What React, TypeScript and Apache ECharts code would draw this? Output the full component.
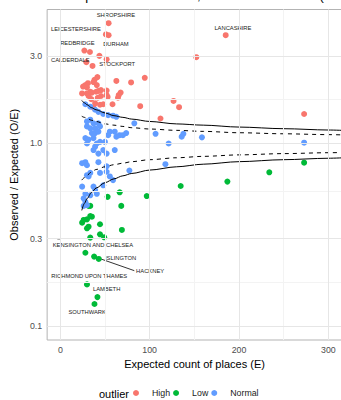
import React, { useEffect, useRef } from "react";
import * as echarts from "echarts";

// ---------- data (E = expected count, ratio = O/E) ----------
const highPoints: [number, number][] = [
  [54.0, 4.56], [51.0, 3.96], [54.0, 3.92], [185.1, 3.92], [26.9, 3.23], [33.1, 3.17],
  [43.7, 3.02], [152.2, 2.97], [51.8, 2.89], [29.1, 2.79], [36.0, 2.66], [41.5, 2.31],
  [62.7, 2.2], [38.2, 2.23], [37.1, 2.17], [79.2, 2.16], [94.5, 2.29], [30.9, 2.14],
  [25.4, 2.05], [29.8, 2.03], [40.8, 2.09], [45.5, 1.96], [33.5, 1.92], [40.0, 1.92],
  [51.8, 1.95], [67.5, 1.9], [65.3, 1.84], [64.5, 1.78], [41.9, 1.78], [34.6, 1.75],
  [45.5, 1.82], [52.9, 1.8], [58.4, 1.64], [48.0, 1.64], [37.1, 1.57], [89.4, 1.6],
  [126.7, 1.71], [132.9, 1.58], [112.1, 1.37], [272.9, 1.45], [28.0, 2.09], [24.3, 1.88],
  [29.8, 1.88], [31.6, 1.82], [35.3, 1.9], [42.6, 1.94], [38.9, 1.66], [44.4, 1.63], [51.8, 1.84],
];

const lowPoints: [number, number][] = [
  [134.7, 0.585], [66.4, 0.54], [52.9, 0.51], [96.7, 0.515], [68.2, 0.455], [68.9, 0.336],
  [31.6, 0.455], [33.5, 0.455], [33.5, 0.4], [35.3, 0.397], [24.4, 0.368], [26.1, 0.381],
  [29.8, 0.384], [29.8, 0.343], [31.6, 0.35], [44.4, 0.361], [44.4, 0.318], [49.1, 0.306],
  [33.5, 0.305], [28.0, 0.252], [37.8, 0.24], [43.0, 0.233], [29.8, 0.169], [41.5, 0.144],
  [38.2, 0.132], [187.0, 0.618], [233.9, 0.695], [272.9, 0.785],
];

const normalPoints: [number, number][] = [
  [28.0, 1.64], [33.5, 1.59], [38.9, 1.53], [42.6, 1.49], [48.0, 1.45], [53.5, 1.43], [59.0, 1.42], [62.7, 1.4],
  [29.8, 1.32], [33.5, 1.35], [37.1, 1.29], [42.6, 1.29], [29.8, 1.24], [33.5, 1.21], [38.9, 1.21], [44.4, 1.24],
  [38.9, 1.14], [42.6, 1.16], [55.4, 1.16], [60.9, 1.16], [28.0, 1.07], [31.6, 1.05], [37.1, 1.07], [53.5, 1.11],
  [35.3, 1.14], [29.8, 1.0], [40.8, 1.0], [38.9, 0.96], [44.4, 1.02], [49.9, 1.02], [62.7, 1.09], [66.4, 1.11],
  [37.1, 0.92], [42.6, 0.88], [48.0, 0.92], [51.8, 0.88], [60.9, 0.92],
  [24.4, 0.78], [28.0, 0.79], [29.8, 0.76], [42.6, 0.79], [51.8, 0.75],
  [29.8, 0.67], [31.6, 0.66], [33.5, 0.69], [44.4, 0.69], [51.8, 0.7], [55.4, 0.66], [59.0, 0.63],
  [24.4, 0.58], [37.1, 0.58], [48.0, 0.59], [33.5, 0.52], [38.9, 0.556], [40.8, 0.53],
  [26.1, 0.5], [28.0, 0.48], [29.8, 0.46], [26.1, 0.455], [28.0, 0.53],
  [77.3, 0.71], [117.6, 0.77], [121.2, 1.0], [106.6, 1.13], [82.8, 1.29], [70.0, 1.11], [73.7, 1.14],
  [135.8, 1.09], [137.7, 1.13], [158.5, 1.08], [272.9, 1.01],
];

// labelled points: group + index into the group's array
const pointLabels = [
  { group: "High", index: 0, text: "SHROPSHIRE" },
  { group: "High", index: 1, text: "LEICESTERSHIRE" },
  { group: "High", index: 2, text: "DURHAM" },
  { group: "High", index: 3, text: "LANCASHIRE" },
  { group: "High", index: 4, text: "REDBRIDGE" },
  { group: "High", index: 9, text: "CALDERDALE" },
  { group: "High", index: 10, text: "STOCKPORT" },
  { group: "Low", index: 19, text: "KENSINGTON AND CHELSEA" },
  { group: "Low", index: 20, text: "HACKNEY" },
  { group: "Low", index: 21, text: "ISLINGTON" },
  { group: "Low", index: 22, text: "RICHMOND UPON THAMES" },
  { group: "Low", index: 23, text: "LAMBETH" },
  { group: "Low", index: 24, text: "SOUTHWARK" },
];

// funnel limits
const limitE = [24, 27, 30, 35, 40, 50, 60, 70, 80, 100, 130, 160, 200, 250, 300, 320];
const upper998 = [1.72, 1.67, 1.63, 1.57, 1.53, 1.47, 1.42, 1.39, 1.36, 1.32, 1.28, 1.26, 1.23, 1.205, 1.185, 1.178];
const upper95 = [1.41, 1.39, 1.37, 1.34, 1.32, 1.28, 1.26, 1.24, 1.22, 1.2, 1.18, 1.165, 1.145, 1.13, 1.118, 1.113];
const lower95 = [0.63, 0.65, 0.67, 0.7, 0.72, 0.745, 0.765, 0.78, 0.795, 0.815, 0.835, 0.85, 0.866, 0.88, 0.89, 0.893];
const lower998 = [0.43, 0.47, 0.5, 0.54, 0.57, 0.61, 0.64, 0.665, 0.685, 0.715, 0.745, 0.77, 0.795, 0.815, 0.83, 0.836];

// HACKNEY repel segment (point -> label), data coordinates
const hackneySegment: [number, number][] = [[37.8, 0.24], [82.8, 0.201]];

// axes
const xTickValues = [0, 100, 200, 300];
const xMinorValues = [50, 150, 250];
const yTickValues = [0.1, 0.3, 1, 3];
const yMinorValues = [0.1732, 0.5477, 1.732];
const legendNames = ["High", "Low", "Normal"];

const titleText = "Funnel plot: dashed = 95%, solid = 99.8% limits (standardised ratio)";
const xTitle = "Expected count of places (E)";
const yTitle = "Observed / Expected (O/E)";

// ---------- styles ----------
const COLORS: Record<string, string> = { High: "#F8766D", Low: "#00BA38", Normal: "#619CFF" };
const labelOffsets: Record<string, [number, number]> = {
  SHROPSHIRE: [7.3, -7.8],
  LEICESTERSHIRE: [-30, -5.6],
  DURHAM: [7.3, 8.4],
  LANCASHIRE: [7.2, -7.6],
  REDBRIDGE: [-7, -8],
  CALDERDALE: [-16, -2],
  STOCKPORT: [24.7, -2.3],
  "KENSINGTON AND CHELSEA": [7.5, -7.7],
  ISLINGTON: [21.8, -0.7],
  HACKNEY: [56, 14.6],
  "RICHMOND UPON THAMES": [2.3, -8.6],
  LAMBETH: [9.2, -7.7],
  SOUTHWARK: [-7.3, 8.3],
};
const FONT = "'Liberation Sans', Arial, Helvetica, sans-serif";
const lg = (v: number) => Math.log10(v);

export default function App() {
  const ref = useRef<HTMLDivElement>(null);
  useEffect(() => {
    if (!ref.current) return;
    const chart = echarts.init(ref.current, undefined, { renderer: "svg" });
    const groups: Record<string, [number, number][]> = {
      High: highPoints,
      Low: lowPoints,
      Normal: normalPoints,
    };
    const scatterSeries = legendNames.map((g) => ({
      type: "scatter",
      name: g,
      symbolSize: 6,
      z: 3,
      itemStyle: { color: COLORS[g], opacity: 1 },
      data: groups[g].map((p, i) => {
        const lab = pointLabels.find((l) => l.group === g && l.index === i);
        const item: any = { value: [p[0], lg(p[1])] };
        if (lab) {
          item.label = {
            show: true,
            formatter: lab.text,
            position: "inside",
            offset: labelOffsets[lab.text],
            fontSize: 5.8,
            fontFamily: FONT,
            color: "#222",
          };
        }
        return item;
      }),
    }));
    const limitSeries = [
      { d: upper998, dash: false },
      { d: upper95, dash: true },
      { d: lower95, dash: true },
      { d: lower998, dash: false },
    ].map((s) => ({
      type: "line",
      showSymbol: false,
      symbol: "none",
      smooth: 0.3,
      smoothMonotone: "x",
      z: 4,
      silent: true,
      lineStyle: { color: "#000", width: 1, type: s.dash ? [4, 4] : "solid" },
      data: limitE.map((e, i) => [e, lg(s.d[i])]),
    }));
    const majorStyle = { color: "#E6E6E6", width: 1, type: "solid" };
    const minorStyle = { color: "#F3F3F3", width: 1, type: "solid" };
    chart.setOption({
      animation: false,
      textStyle: { fontFamily: FONT },
      grid: {
        left: 41,
        top: 9.5,
        width: 301,
        height: 330.5,
        show: true,
        borderColor: "#B3B3B3",
        borderWidth: 1,
        containLabel: false,
      },
      xAxis: {
        type: "value",
        min: -14.8,
        max: 315.3,
        name: xTitle,
        nameLocation: "middle",
        nameGap: 17,
        nameTextStyle: { fontSize: 11, color: "#000", fontFamily: FONT },
        axisLine: { show: false },
        splitLine: { show: false },
        axisTick: { show: true, customValues: xTickValues, length: 3, lineStyle: { color: "#B3B3B3" } },
        axisLabel: { customValues: xTickValues, fontSize: 8.8, color: "#4D4D4D", margin: 5 },
      },
      yAxis: {
        type: "value",
        min: -1.0767,
        max: 0.734,
        name: yTitle,
        nameLocation: "middle",
        nameGap: 25,
        nameTextStyle: { fontSize: 11, color: "#000", fontFamily: FONT },
        axisLine: { show: false },
        splitLine: { show: false },
        axisTick: { show: true, customValues: yTickValues.map(lg), length: 3, lineStyle: { color: "#B3B3B3" } },
        axisLabel: {
          customValues: yTickValues.map(lg),
          fontSize: 8.8,
          color: "#4D4D4D",
          margin: 5,
          formatter: (v: number) => Math.pow(10, v).toFixed(1),
        },
      },
      legend: {
        data: legendNames,
        left: 133,
        top: 388.5,
        padding: 0,
        itemWidth: 22,
        itemHeight: 6,
        itemGap: 3,
        icon: "circle",
        selectedMode: false,
        textStyle: { fontSize: 8.8, color: "#1A1A1A", fontFamily: FONT },
      },
      graphic: [
        {
          type: "text",
          x: 42,
          y: -5,
          style: { text: titleText, fontSize: 13, fill: "#000", fontFamily: FONT, verticalAlign: "middle" },
        },
        {
          type: "text",
          x: 99,
          y: 394,
          style: { text: "outlier", fontSize: 11, fill: "#000", fontFamily: FONT, verticalAlign: "middle" },
        },
      ],
      series: [
        {
          type: "scatter",
          data: [],
          z: 0,
          silent: true,
          markLine: {
            silent: true,
            symbol: ["none", "none"],
            label: { show: false },
            emphasis: { disabled: true },
            data: [
              ...xMinorValues.map((v) => ({ xAxis: v, lineStyle: minorStyle })),
              ...yMinorValues.map((v) => ({ yAxis: lg(v), lineStyle: minorStyle })),
              ...xTickValues.map((v) => ({ xAxis: v, lineStyle: majorStyle })),
              ...yTickValues.map((v) => ({ yAxis: lg(v), lineStyle: majorStyle })),
            ],
          },
        },
        {
          type: "line",
          showSymbol: false,
          symbol: "none",
          z: 2,
          silent: true,
          lineStyle: { color: "#000", width: 0.8 },
          data: hackneySegment.map((p) => [p[0], lg(p[1])]),
        },
        ...scatterSeries,
        ...limitSeries,
      ],
    });
    return () => chart.dispose();
  }, []);
  return (
    <div style={{ position: "fixed", left: 0, top: 0, width: 341, height: 400, overflow: "hidden", background: "#fff" }}>
      <div ref={ref} style={{ width: 360, height: 400 }} />
    </div>
  );
}
